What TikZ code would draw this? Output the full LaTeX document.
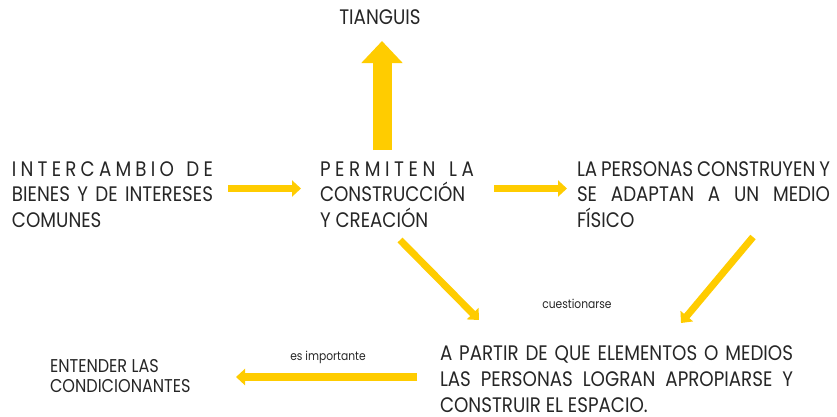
\documentclass[tikz,border=0pt]{standalone}
\usepackage{fontspec}
\setmainfont{Poppins}[FakeStretch=0.87]
\usetikzlibrary{arrows.meta}
\definecolor{ylw}{HTML}{FFCC00}
\definecolor{txt}{HTML}{262626}
\newcommand{\jl}[2]{\hbox to #1pt{#2}}
\newcommand{\lgp}{\hskip 0pt plus 1fil\relax}
\newcommand{\wgp}{\hskip 0pt plus 3fil\relax}
\tikzset{
  lbl/.style={anchor=base west, inner sep=0pt, outer sep=0pt, text=txt, font=\fontsize{21}{25}\selectfont},
  lblsm/.style={anchor=base west, inner sep=0pt, outer sep=0pt, text=txt, font=\fontsize{18.5}{22}\selectfont},
  tiny/.style={anchor=base, inner sep=0pt, outer sep=0pt, text=txt, font=\fontsize{12.3}{14}\selectfont},
  thinarrow/.style={draw=ylw, line width=7pt, -{Triangle[length=9pt,width=16pt]}},
  bigarrow/.style={draw=ylw, line width=19pt, -{Triangle[length=22pt,width=40pt]}}
}
\begin{document}
\begin{tikzpicture}[x=1pt,y=-1pt]
\useasboundingbox (0,0) rectangle (837,416);
% top
\node[lbl, anchor=base] (tian) at (380,24) {TIANGUIS};
% left block
\node[lbl] (l1) at (12,176) {\jl{201}{I\lgp N\lgp T\lgp E\lgp R\lgp C\lgp A\lgp M\lgp B\lgp I\lgp O\wgp D\lgp E}};
\node[lbl] (l2) at (12,201.5) {\jl{201}{BIENES\wgp Y\wgp DE\wgp INTERESES}};
\node[lbl] (l3) at (12,227) {COMUNES};
% middle block
\node[lbl] (m1) at (320,176) {\jl{154}{P\lgp E\lgp R\lgp M\lgp I\lgp T\lgp E\lgp N\wgp L\lgp A}};
\node[lbl] (m2) at (320,201.5) {CONSTRUCCIÓN};
\node[lbl] (m3) at (320,227) {Y CREACIÓN};
% right block
\node[lbl] (r1) at (577,176) {\jl{253}{LA\wgp PERSONAS\wgp CONSTRUYEN\wgp Y}};
\node[lbl] (r2) at (577,201.5) {\jl{253}{SE\wgp ADAPTAN\wgp A\wgp UN\wgp MEDIO}};
\node[lbl] (r3) at (577,227) {FÍSICO};
% bottom block
\node[lbl] (b1) at (440,360.5) {\jl{353}{A\wgp PARTIR\wgp DE\wgp QUE\wgp ELEMENTOS\wgp O\wgp MEDIOS}};
\node[lbl] (b2) at (440,386.5) {\jl{353}{LAS\wgp PERSONAS\wgp LOGRAN\wgp APROPIARSE\wgp Y}};
\node[lbl] (b3) at (440,412) {CONSTRUIR EL ESPACIO.};
% bottom left
\node[lblsm] (e1) at (50,372) {ENTENDER LAS};
\node[lblsm] (e2) at (50,392) {CONDICIONANTES};
% small labels
\node[tiny] (cue) at (577,308) {cuestionarse};
\node[tiny] (imp) at (328,360) {es importante};
% arrow ends
\coordinate (a1s) at (228,188.5);
\coordinate (a1e) at (301,188.5);
\coordinate (a2s) at (494,188.5);
\coordinate (a2e) at (567,188.5);
\coordinate (ups) at (382,150);
\coordinate (upe) at (382,41);
\coordinate (d1s) at (400,240);
\coordinate (d1e) at (479,320);
\coordinate (d2s) at (753,237);
\coordinate (d2e) at (681,323);
\coordinate (bls) at (417,377);
\coordinate (ble) at (236,377);
\draw[thinarrow] (a1s) -- (a1e);
\draw[thinarrow] (a2s) -- (a2e);
\draw[bigarrow] (ups) -- (upe);
\draw[thinarrow] (d1s) -- (d1e);
\draw[thinarrow] (d2s) -- (d2e);
\draw[thinarrow, line width=8pt] (bls) -- (ble);
\end{tikzpicture}
\end{document}
